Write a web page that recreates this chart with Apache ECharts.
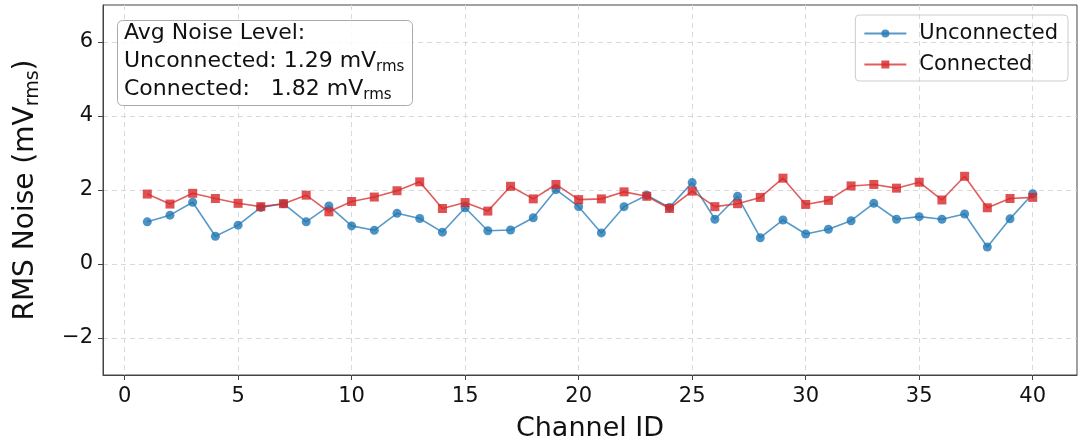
<!DOCTYPE html>
<html>
<head>
<meta charset="utf-8">
<script src="https://cdn.jsdelivr.net/npm/echarts@6/dist/echarts.min.js"></script>
<style>
  html, body { margin: 0; padding: 0; background: #fff; }
  #chart { width: 1089px; height: 443px; }
</style>
</head>
<body>
<div id="chart"></div>
<script>
// channel ids (x axis)
var channels = [1,2,3,4,5,6,7,8,9,10,11,12,13,14,15,16,17,18,19,20,
                21,22,23,24,25,26,27,28,29,30,31,32,33,34,35,36,37,38,39,40];
// rms noise, mV
var unconnected = [1.14,1.32,1.67,0.75,1.05,1.53,1.63,1.14,1.57,1.03,
                   0.91,1.37,1.23,0.86,1.52,0.90,0.92,1.25,2.01,1.55,
                   0.84,1.55,1.86,1.53,2.20,1.21,1.83,0.71,1.19,0.81,
                   0.94,1.17,1.64,1.21,1.28,1.21,1.35,0.46,1.22,1.90];
var connected = [1.89,1.62,1.91,1.77,1.64,1.55,1.63,1.86,1.41,1.69,
                 1.81,1.98,2.22,1.50,1.66,1.43,2.10,1.76,2.15,1.74,
                 1.76,1.95,1.83,1.50,1.97,1.55,1.63,1.80,2.32,1.61,
                 1.72,2.11,2.15,2.05,2.21,1.73,2.37,1.52,1.77,1.80];
var xTicks = [0,5,10,15,20,25,30,35,40];
var yTicks = [-2,0,2,4,6];
var avgUnconnected = '1.29';
var avgConnected = '1.82';

var font = 'DejaVu Sans';

function pairs(xs, ys) {
    var out = [];
    for (var i = 0; i < xs.length; i++) {
        out.push([xs[i], ys[i]]);
    }
    return out;
}

var myChart = echarts.init(document.getElementById('chart'));
var gridLine = { show: true, lineStyle: { color: '#d9d9d9', type: [5, 4], width: 1 } };

var option = {
    animation: false,
    textStyle: { fontFamily: font },
    grid: {
        left: 103, right: 12, top: 5, bottom: 68,
        outerBoundsMode: 'none',
        containLabel: false,
        show: true, borderColor: '#444', borderWidth: 1
    },
    title: {
        left: 117, top: 17,
        padding: [2, 8, 3, 7],
        backgroundColor: 'rgba(255,255,255,0.85)',
        borderColor: '#aaa', borderWidth: 1, borderRadius: 5,
        text: '{t|Avg Noise Level:}\n{t|Unconnected: ' + avgUnconnected + ' mV}{s|rms}\n{t|Connected:   ' + avgConnected + ' mV}{s|rms}',
        textStyle: {
            fontFamily: font, fontWeight: 'normal',
            rich: {
                t: { fontSize: 22, lineHeight: 28, color: '#111', fontFamily: font, fontWeight: 'normal' },
                s: { fontSize: 15, lineHeight: 28, color: '#111', fontFamily: font, fontWeight: 'normal', verticalAlign: 'bottom' }
            }
        }
    },
    legend: {
        right: 21, top: 15,
        orient: 'vertical',
        itemWidth: 42, itemHeight: 10, itemGap: 10,
        padding: [8, 10, 6, 8],
        borderColor: '#ccc', borderWidth: 1, borderRadius: 4,
        textStyle: { fontSize: 21, color: '#111', fontFamily: font, padding: [0, 0, 0, 8] },
        data: ['Unconnected', 'Connected']
    },
    xAxis: {
        type: 'value',
        min: -0.95, max: 41.95,
        name: 'Channel ID',
        nameLocation: 'middle',
        nameGap: 40,
        nameTextStyle: { fontSize: 27, color: '#111', fontFamily: font },
        axisLine: { onZero: false, lineStyle: { color: '#444' } },
        axisTick: { show: true, length: 5, customValues: xTicks, lineStyle: { color: '#444' } },
        axisLabel: { customValues: xTicks, fontSize: 21, color: '#111', margin: 11, fontFamily: font },
        splitLine: gridLine
    },
    yAxis: {
        type: 'value',
        min: -3, max: 7,
        name: '{a|RMS Noise (mV}{s|rms}{a|)}',
        nameLocation: 'middle',
        nameGap: 60,
        nameTextStyle: {
            rich: {
                a: { fontSize: 28, color: '#111', fontFamily: font, lineHeight: 34 },
                s: { fontSize: 19, color: '#111', fontFamily: font, lineHeight: 34, verticalAlign: 'bottom' }
            }
        },
        axisLine: { show: true, onZero: false, lineStyle: { color: '#444' } },
        axisTick: { show: true, length: 5, customValues: yTicks, lineStyle: { color: '#444' } },
        axisLabel: {
            customValues: yTicks, fontSize: 21, color: '#111', margin: 10, fontFamily: font,
            formatter: function (v) { return String(v).replace('-', '\u2212'); }
        },
        splitLine: gridLine
    },
    series: [
        {
            name: 'Unconnected',
            type: 'line',
            data: pairs(channels, unconnected),
            symbol: 'circle',
            symbolSize: 9,
            lineStyle: { width: 1.6, color: 'rgba(31,119,180,0.75)' },
            itemStyle: { color: 'rgba(31,119,180,0.8)' },
            z: 2
        },
        {
            name: 'Connected',
            type: 'line',
            data: pairs(channels, connected),
            symbol: 'rect',
            symbolSize: 9,
            lineStyle: { width: 1.6, color: 'rgba(214,39,40,0.75)' },
            itemStyle: { color: 'rgba(214,39,40,0.8)' },
            z: 3
        }
    ]
};
myChart.setOption(option);
</script>
</body>
</html>
